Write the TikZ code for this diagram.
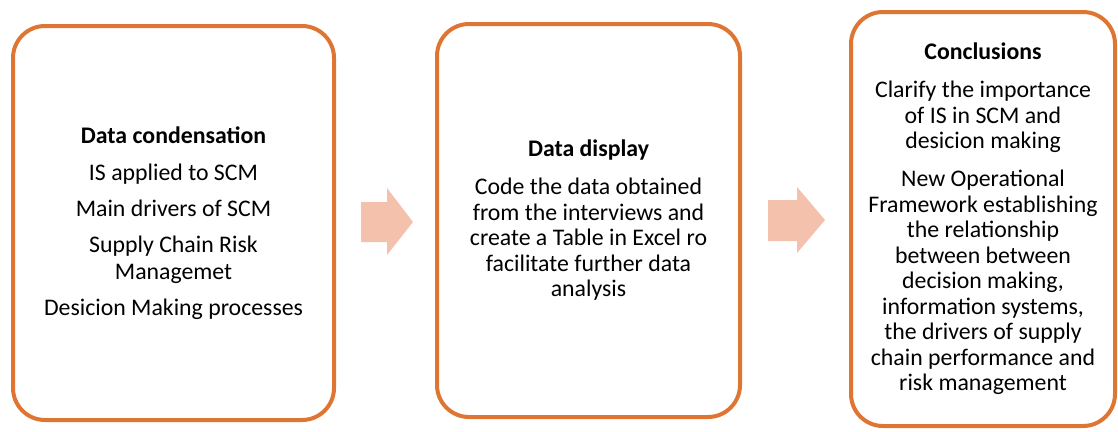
\documentclass[tikz,border=0pt]{standalone}
\usepackage{fontspec}
\setmainfont{Carlito}
\definecolor{boxline}{HTML}{DF7532}
\definecolor{arrowfill}{HTML}{F4C1AC}
\tikzset{
  stagebox/.style={draw=boxline, line width=4pt, rounded corners=32pt, fill=white,
    align=center, inner sep=0pt, font=\fontsize{23.8}{25.5}\selectfont},
  blockarrow/.style={fill=arrowfill, draw=none}
}
\newcommand{\pgap}{\\[12.5pt]}
\begin{document}
\begin{tikzpicture}[x=1pt,y=-1pt]
\useasboundingbox (0,0) rectangle (1118,431);

% stage boxes
\node[stagebox, minimum width=321pt, minimum height=394pt,
      font=\fontsize{23.8}{27}\selectfont] (b1) at (173.5,223)
  {\textbf{Data condensation}\\[10pt]
   IS applied to SCM\\[9pt]
   Main drivers of SCM\\[9pt]
   Supply Chain Risk\\ Managemet\\[9pt]
   Desicion Making processes};

\node[stagebox, minimum width=303pt, minimum height=393pt] (b2) at (588.5,220.5)
  {\textbf{Data display}\pgap
   Code the data obtained\\
   from the interviews and\\
   create a Table in Excel ro\\
   facilitate further data\\
   analysis};

\node[stagebox, minimum width=264pt, minimum height=414pt] (b3) at (983,219)
  {\textbf{Conclusions}\pgap
   Clarify the importance\\
   of IS in SCM and\\
   desicion making\pgap
   New Operational\\
   Framework establishing\\
   the relationship\\
   between between\\
   decision making,\\
   information systems,\\
   the drivers of supply\\
   chain performance and\\
   risk management};

% block arrows between the stages
\fill[blockarrow] (361,202) -- (387,202) -- (387,188) -- (413,222) -- (387,255)
  -- (387,242) -- (361,242) -- cycle;
\fill[blockarrow] (768,200) -- (797,200) -- (797,187) -- (825,220) -- (797,253)
  -- (797,241) -- (768,241) -- cycle;
\end{tikzpicture}
\end{document}
